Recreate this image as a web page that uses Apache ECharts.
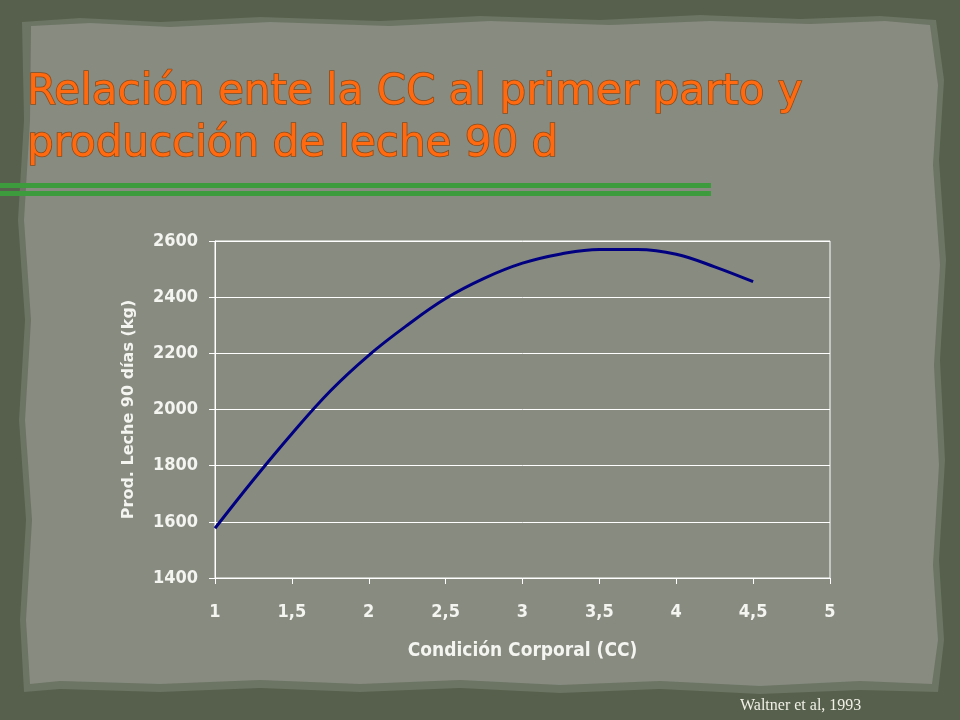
<!DOCTYPE html>
<html>
<head>
<meta charset="utf-8">
<script src="https://cdn.jsdelivr.net/npm/echarts@6/dist/echarts.min.js"></script>
<style>
html,body{margin:0;padding:0;background:#5a6350;}
#chart{width:960px;height:720px;}
</style>
</head>
<body>
<div id="chart"></div>
<script>
// Data
var ccValues = [1, 1.25, 1.5, 1.75, 2, 2.25, 2.5, 2.75, 3, 3.25, 3.5, 3.75, 4, 4.25, 4.5];
var milk90d = [1577, 1750, 1914, 2066, 2193, 2300, 2395, 2467, 2521, 2554, 2570, 2570, 2553, 2508, 2455];
var titleLines = ['Relación ente la CC al primer parto y', 'producción de leche 90 d'];
var xAxisName = 'Condición Corporal (CC)';
var yAxisName = 'Prod. Leche 90 días (kg)';
var sourceNote = 'Waltner et al, 1993';

var points = ccValues.map(function (x, i) { return [x, milk90d[i]]; });

var chart = echarts.init(document.getElementById('chart'), null, {renderer: 'canvas'});

var panelOuter = [
  [22,22],[80,18],[160,22],[260,17],[380,21],[480,16],[600,20],[700,15],[800,19],[880,16],[936,20],
  [944,80],[939,160],[946,260],[940,360],[945,460],[939,560],[944,640],[938,692],
  [860,690],[760,694],[660,689],[560,693],[460,688],[360,692],[260,688],[160,692],[60,689],[24,692],
  [20,620],[26,520],[19,420],[25,320],[18,220],[24,120]
];
var panelInner = [
  [31,26],[90,23],[170,27],[270,22],[390,26],[490,21],[610,25],[710,21],[810,24],[885,21],[930,25],
  [938,85],[933,165],[940,265],[934,365],[939,465],[933,565],[938,640],[932,684],
  [860,681],[760,686],[660,681],[560,685],[460,680],[360,684],[260,680],[160,684],[60,681],[30,684],
  [26,620],[32,520],[25,420],[31,320],[24,220],[30,120]
];

var tickFont = '"DejaVu Sans Condensed", "DejaVu Sans"';

var option = {
  backgroundColor: '#56604c',
  animation: false,
  graphic: [
    {type: 'polygon', z: -10, shape: {points: panelOuter}, style: {fill: '#6c7463'}, silent: true},
    {type: 'polygon', z: -9, shape: {points: panelInner}, style: {fill: '#878b80'}, silent: true},
    {type: 'rect', z: -5, shape: {x: 0, y: 183, width: 711, height: 5}, style: {fill: '#3d9a3d'}, silent: true},
    {type: 'rect', z: -5, shape: {x: 0, y: 191, width: 711, height: 5}, style: {fill: '#3d9a3d'}, silent: true},
    {type: 'text', left: 740, top: 698, silent: true,
      style: {text: sourceNote, fill: '#f0f0e6', font: '16px "Liberation Serif"'}}
  ],
  title: {
    text: titleLines.join('\n'),
    left: 22,
    top: 62,
    textStyle: {
      color: '#ff6a10',
      fontFamily: '"DejaVu Sans"',
      fontWeight: 'normal',
      fontSize: 42,
      lineHeight: 52,
      textBorderColor: '#8a4a1a',
      textBorderWidth: 1.5
    }
  },
  grid: {
    left: 215, right: 130, top: 241, bottom: 142,
    show: true, borderColor: '#ffffff', borderWidth: 1, backgroundColor: 'transparent'
  },
  xAxis: {
    type: 'value',
    min: 1, max: 5, interval: 0.5,
    name: xAxisName,
    nameLocation: 'middle',
    nameGap: 64,
    nameTextStyle: {color: '#f4f4f0', fontFamily: tickFont, fontWeight: 'bold', fontSize: 19},
    axisLine: {show: true, lineStyle: {color: '#ffffff', width: 1}},
    axisTick: {show: true, length: 6, lineStyle: {color: '#ffffff'}},
    splitLine: {show: false},
    axisLabel: {
      color: '#f4f4f0', fontFamily: tickFont, fontWeight: 'bold', fontSize: 18,
      margin: 25,
      formatter: function (v) { return String(v).replace('.', ','); }
    }
  },
  yAxis: {
    type: 'value',
    min: 1400, max: 2600, interval: 200,
    name: yAxisName,
    nameLocation: 'middle',
    nameGap: 78,
    nameTextStyle: {color: '#f4f4f0', fontFamily: '"DejaVu Sans"', fontWeight: 'bold', fontSize: 16},
    axisLine: {show: true, lineStyle: {color: '#ffffff', width: 1}},
    axisTick: {show: true, length: 6, lineStyle: {color: '#ffffff'}},
    splitLine: {show: true, lineStyle: {color: '#ffffff', width: 1}},
    axisLabel: {
      color: '#f4f4f0', fontFamily: tickFont, fontWeight: 'bold', fontSize: 18,
      margin: 17,
      formatter: function (v) { return String(v); }
    }
  },
  series: [{
    type: 'line',
    data: points,
    smooth: 0.4,
    showSymbol: false,
    lineStyle: {color: '#000080', width: 3},
    itemStyle: {color: '#000080'}
  }]
};
chart.setOption(option);
</script>
</body>
</html>
